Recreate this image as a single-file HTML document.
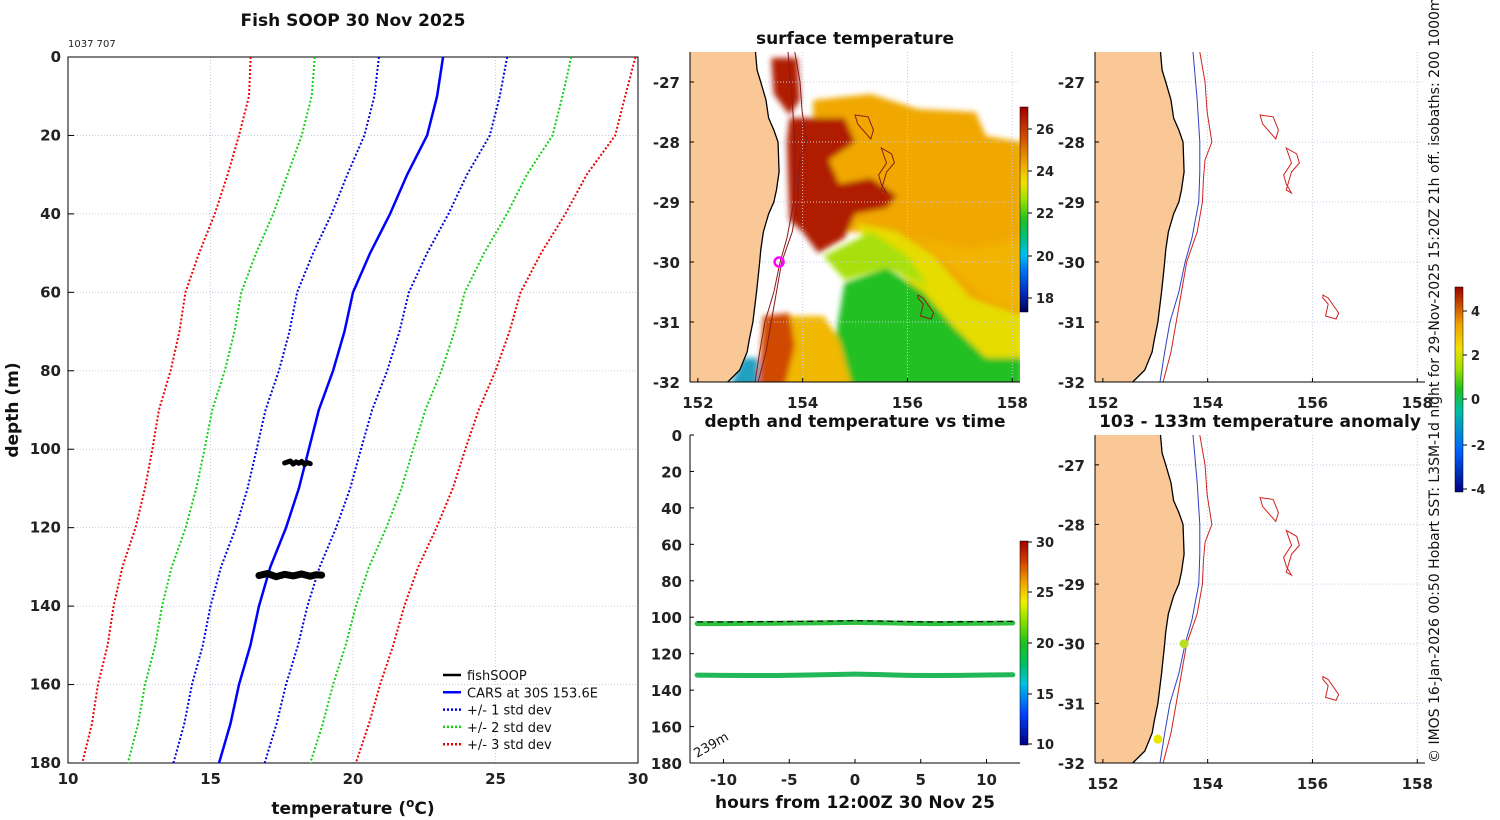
<!DOCTYPE html>
<html><head><meta charset="utf-8"><style>
body{margin:0;background:#fff}
svg{display:block;font-family:"DejaVu Sans","Liberation Sans",sans-serif}
.t{font-weight:bold;font-size:15px;fill:#222}
.ti{font-weight:bold;font-size:17px;fill:#111}
.cb{font-weight:bold;font-size:13px;fill:#222}
.lg{font-size:13px;fill:#111}
</style></head><body>
<svg id="s" width="1500" height="820" viewBox="0 0 1500 820">
<defs>
<filter id="bl" x="-5%" y="-5%" width="110%" height="110%"><feGaussianBlur stdDeviation="3"/></filter>
<clipPath id="c2"><rect x="690" y="52" width="330" height="330"/></clipPath>
<clipPath id="c4"><rect x="1095" y="52" width="330" height="330"/></clipPath>
<clipPath id="c5"><rect x="1095" y="435" width="330" height="328"/></clipPath>
<linearGradient id="gsst" x1="0" y1="1" x2="0" y2="0">
<stop offset="0" stop-color="#00005a"/><stop offset="0.1" stop-color="#0030c0"/><stop offset="0.2" stop-color="#0070f0"/><stop offset="0.28" stop-color="#00c0f0"/><stop offset="0.36" stop-color="#00c080"/><stop offset="0.45" stop-color="#20c020"/><stop offset="0.55" stop-color="#a0e000"/><stop offset="0.63" stop-color="#f0e000"/><stop offset="0.72" stop-color="#f0a800"/><stop offset="0.85" stop-color="#d05000"/><stop offset="1" stop-color="#a00000"/></linearGradient>
<linearGradient id="gts" x1="0" y1="1" x2="0" y2="0">
<stop offset="0" stop-color="#000080"/><stop offset="0.15" stop-color="#0040ff"/><stop offset="0.3" stop-color="#00c0e0"/><stop offset="0.4" stop-color="#00c060"/><stop offset="0.5" stop-color="#20c020"/><stop offset="0.6" stop-color="#80e000"/><stop offset="0.7" stop-color="#f0f000"/><stop offset="0.8" stop-color="#f0a000"/><stop offset="0.9" stop-color="#d04000"/><stop offset="1" stop-color="#a00000"/></linearGradient>
<linearGradient id="gan" x1="0" y1="1" x2="0" y2="0">
<stop offset="0" stop-color="#000080"/><stop offset="0.2" stop-color="#0060ff"/><stop offset="0.4" stop-color="#00c0a0"/><stop offset="0.5" stop-color="#20c020"/><stop offset="0.6" stop-color="#a0e000"/><stop offset="0.7" stop-color="#f0e000"/><stop offset="0.82" stop-color="#f0a000"/><stop offset="1" stop-color="#a00000"/></linearGradient>
</defs>
<g id="g"></g>
</svg>
<script>
// ---- profile data ----
const depthsC=[0,10,20,30,40,50,60,70,80,90,100,110,120,130,140,150,160,170,180];
const meanC=[23.16,22.95,22.6,21.9,21.3,20.6,20.0,19.7,19.3,18.8,18.45,18.1,17.65,17.1,16.7,16.4,16.0,15.7,15.3];
const sdC=[2.25,2.2,2.2,2.1,2.05,2.0,1.96,1.93,1.9,1.87,1.83,1.8,1.76,1.73,1.7,1.67,1.65,1.62,1.6];
const fishT1=[17.6,17.8,17.9,18.0,18.1,18.2,18.3,18.4,18.5];
const fishD1=[103.5,103.0,103.8,103.2,103.6,103.1,103.9,103.4,103.7];
const fishT2=[16.7,17.0,17.3,17.6,17.9,18.2,18.5,18.7,18.9];
const fishD2=[132.2,131.7,132.5,131.9,132.3,131.8,132.4,132.0,132.1];
const xTicks1=[10,15,20,25,30];
const yTicks1=[0,20,40,60,80,100,120,140,160,180];
// ---- time series data ----
const hours=[-12,-10,-8,-6,-4,-2,0,2,4,6,8,10,12];
const depthA=[103.5,103.5,103.4,103.3,103.2,103.0,102.8,103.0,103.3,103.5,103.4,103.3,103.2];
const depthB=[131.8,131.9,132.0,132.0,131.8,131.5,131.2,131.5,131.9,132.0,131.9,131.7,131.6];
const tempA=[20.5,20.6,20.6,20.5,20.4,20.5,20.6,20.5,20.4,20.5,20.6,20.5,20.5];
const tempB=[20.2,20.3,20.1,20.0,19.9,19.8,20.0,19.8,19.7,19.9,20.1,20.2,20.3];
const hTicks=[-10,-5,0,5,10];
const dTicks=[0,20,40,60,80,100,120,140,160,180];
// ---- map data ----
const lonTicks=[152,154,156,158];
const latTicks=[-27,-28,-29,-30,-31,-32];
const coastLon=[153.1,153.13,153.2,153.3,153.35,153.45,153.53,153.55,153.5,153.45,153.35,153.25,153.2,153.18,153.12,153.05,152.98,152.94,152.8,152.57];
const coastLat=[-26.5,-26.8,-27.0,-27.3,-27.6,-27.8,-28.0,-28.5,-28.8,-29.0,-29.2,-29.5,-29.8,-30.0,-30.5,-31.0,-31.3,-31.5,-31.8,-32.0];
const iso200Lon=[153.72,153.8,153.85,153.85,153.83,153.7,153.57,153.45,153.28,153.18,153.09];
const iso200Lat=[-26.5,-27.3,-28.0,-28.5,-29.0,-29.6,-30.0,-30.5,-31.0,-31.5,-32.0];
const iso1000Lon=[153.85,153.95,153.99,154.08,153.95,153.92,153.9,153.8,153.6,153.5,153.4,153.3,153.15];
const iso1000Lat=[-26.5,-27.0,-27.5,-28.0,-28.3,-28.6,-29.0,-29.5,-30.0,-30.5,-31.0,-31.5,-32.0];
const smLon=[[155.0,155.25,155.35,155.3,155.05],[155.5,155.7,155.75,155.6,155.55,155.5,155.6,155.5,155.45,155.6],[156.2,156.3,156.5,156.45,156.25,156.3,156.2]];
const smLat=[[-27.55,-27.58,-27.8,-27.95,-27.7],[-28.1,-28.2,-28.35,-28.5,-28.65,-28.8,-28.85,-28.7,-28.55,-28.35],[-30.55,-30.6,-30.85,-30.95,-30.9,-30.7,-30.6]];
const sstRegions=[
 ["#f0a800",[[154.2,-27.3],[155.3,-27.2],[156.2,-27.45],[157.3,-27.5],[157.5,-27.9],[158.2,-28.0],[158.2,-31.2],[157.6,-31.0],[157,-30.6],[156.5,-30.1],[155.5,-29.5],[154.5,-29.5],[154.2,-28]]],
 ["#f2b400",[[156.2,-29.6],[157.2,-29.8],[158.2,-29.6],[158.2,-30.8],[157.5,-30.6]]],
 ["#e6dc00",[[155.0,-29.35],[155.8,-29.5],[156.5,-29.9],[157.2,-30.6],[158.2,-30.9],[158.2,-31.7],[157.3,-31.7],[156.6,-31.0],[156.0,-30.3],[155.4,-29.9]]],
 ["#a8e010",[[154.4,-29.9],[155.3,-29.5],[156.0,-29.9],[156.4,-30.4],[155.6,-30.1],[154.8,-30.3]]],
 ["#22c020",[[154.8,-30.35],[155.6,-30.1],[156.3,-30.5],[156.9,-31.1],[157.5,-31.6],[158.2,-31.6],[158.2,-32.1],[154.9,-32.1],[154.6,-31.4]]],
 ["#b01a00",[[153.75,-27.6],[154.8,-27.6],[155.0,-28.0],[154.5,-28.3],[154.7,-28.7],[155.3,-28.6],[155.8,-28.9],[155.6,-29.1],[155.0,-29.2],[154.8,-29.6],[154.3,-29.85],[154.0,-29.5],[153.75,-29.3],[153.7,-28.0]]],
 ["#b01a00",[[153.4,-26.6],[153.9,-26.6],[153.95,-27.3],[153.75,-27.55],[153.45,-27.2]]],
 ["#f0b800",[[153.7,-30.9],[154.4,-30.9],[154.7,-31.3],[154.95,-32.1],[153.6,-32.1]]],
 ["#d04a00",[[153.25,-30.9],[153.75,-30.85],[153.85,-31.4],[153.65,-32.1],[153.15,-32.1]]],
 ["#20a0c0",[[152.85,-31.6],[153.15,-31.6],[153.15,-32.1],[152.6,-32.1]]]
];
const ns='http://www.w3.org/2000/svg';
const G=document.getElementById('g');
function el(tag,attrs,parent,text){const e=document.createElementNS(ns,tag);for(const k in attrs)e.setAttribute(k,attrs[k]);if(text!==undefined)e.textContent=text;(parent||G).appendChild(e);return e;}
// ===== Panel 1 =====
const px=T=>68+(T-10)*28.5, py=d=>57+d*(706/180);
let p1=el('g',{});


el('rect',{x:68,y:57,width:570,height:706,fill:'#fff'},p1);
xTicks1.forEach(t=>{if(t>10&&t<30)el('line',{x1:px(t),y1:57,x2:px(t),y2:763,stroke:'#c4cce4','stroke-dasharray':'1 2'},p1);
 let tl=el('text',{x:px(t),y:784,'text-anchor':'middle',class:'t'},p1,String(t));
 
 });
yTicks1.forEach(d=>{if(d>0&&d<180)el('line',{x1:68,y1:py(d),x2:638,y2:py(d),stroke:'#c4cce4','stroke-dasharray':'1 2'},p1);
 el('line',{x1:68,y1:py(d),x2:74,y2:py(d),stroke:'#000'},p1);
 let tl=el('text',{x:61,y:py(d)+5,'text-anchor':'end',class:'t'},p1,String(d));
 
 });
el('rect',{x:68,y:57,width:570,height:706,fill:'none',stroke:'#000'},p1);
function curve(k,color,dash,w,name){const pts=depthsC.map((d,i)=>px(meanC[i]+k*sdC[i])+','+py(d)).join(' ');
 const l=el('polyline',{points:pts,fill:'none',stroke:color,'stroke-width':w,'stroke-dasharray':dash},p1);
 
 }
curve(-3,'#f00000','2 2',2,'minus-3-std-line');curve(3,'#f00000','2 2',2,'plus-3-std-line');
curve(-2,'#10d010','2 2',2,'minus-2-std-line');curve(2,'#10d010','2 2',2,'plus-2-std-line');
curve(-1,'#0000e0','2 2',2,'minus-1-std-line');curve(1,'#0000e0','2 2',2,'plus-1-std-line');
curve(0,'#0000ff','',2.5,'cars-mean-line');
[[fishT1,fishD1],[fishT2,fishD2]].forEach(([T,D],j)=>{
 const pts=T.map((t,i)=>px(t)+','+py(D[i])).join(' ');
 const l=el('polyline',{points:pts,fill:'none',stroke:'#000','stroke-width':j?7:5,'stroke-linejoin':'round','stroke-linecap':'round'},p1);
 
 });
let tt=el('text',{x:353,y:26,'text-anchor':'middle',class:'ti'},p1,'Fish SOOP 30 Nov 2025');


let sm=el('text',{x:68,y:47,'font-size':'10',fill:'#222'},p1,'1037 707');


let yl=el('text',{x:0,y:0,transform:'translate(18,410) rotate(-90)','text-anchor':'middle',class:'ti'},p1,'depth (m)');


let xl=el('text',{x:353,y:814,'text-anchor':'middle',class:'ti'},p1);


xl.innerHTML='temperature (<tspan dy="-7" font-size="12">o</tspan><tspan dy="7">C)</tspan>';
const legItems=[['#000','','fishSOOP'],['#0000ff','','CARS at 30S 153.6E'],['#0000e0','2 2','+/- 1 std dev'],['#10d010','2 2','+/- 2 std dev'],['#f00000','2 2','+/- 3 std dev']];
legItems.forEach((it,i)=>{const y=675+i*17.3;
 const g=el('g',{},p1);
 
 
 el('line',{x1:443,y1:y,x2:461,y2:y,stroke:it[0],'stroke-width':2.5,'stroke-dasharray':it[1]},g);
 el('text',{x:467,y:y+5,class:'lg'},g,it[2]);});
// ===== map helpers =====
function mapPanel(x0,y0,h,latTop,name,isSST,dots){
 const sx=lon=>x0+(lon-151.85)*52.4, sy=lat=>y0+(latTop-lat)*(h/(latTop+32));
 const g=el('g',{});
 
 
 const clip=isSST?'url(#c2)':(y0<100?'url(#c4)':'url(#c5)');
 const inner=el('g',{'clip-path':clip},g);
 if(isSST){const f=el('g',{filter:'url(#bl)'},inner);
  sstRegions.forEach(r=>{const p=el('polygon',{points:r[1].map(q=>sx(q[0])+','+sy(q[1])).join(' '),fill:r[0]},f);
   
   });}
 lonTicks.forEach(l=>{if(l>152)el('line',{x1:sx(l),y1:y0,x2:sx(l),y2:y0+h,stroke:'#c4cce4','stroke-dasharray':'1 2'},inner);});
 latTicks.forEach(l=>{el('line',{x1:x0,y1:sy(l),x2:x0+330,y2:sy(l),stroke:'#c4cce4','stroke-dasharray':'1 2'},inner);});
 const land=[[151.8,latTop+0.1]].concat(coastLon.map((v,i)=>[v,coastLat[i]])).concat([[152.5,-32.2],[151.8,-32.2]]);
 const lp=el('polygon',{points:land.map(q=>sx(q[0])+','+sy(q[1])).join(' '),fill:'#f9c896'},inner);
 
 
 el('polyline',{points:coastLon.map((v,i)=>sx(v)+','+sy(coastLat[i])).join(' '),fill:'none',stroke:'#000','stroke-width':1.3},inner);
 el('polyline',{points:iso200Lon.map((v,i)=>sx(v)+','+sy(iso200Lat[i])).join(' '),fill:'none',stroke:isSST?'#8b1a1a':'#3040c0','stroke-width':1},inner);
 el('polyline',{points:iso1000Lon.map((v,i)=>sx(v)+','+sy(iso1000Lat[i])).join(' '),fill:'none',stroke:isSST?'#8b1a1a':'#d02020','stroke-width':1},inner);
 smLon.forEach((a,j)=>el('polygon',{points:a.map((v,i)=>sx(v)+','+sy(smLat[j][i])).join(' '),fill:'none',stroke:isSST?'#8b1a1a':'#d02020','stroke-width':1},inner));
 if(isSST){const c=el('circle',{cx:sx(153.55),cy:sy(-30.0),r:4.5,fill:'none',stroke:'#ff00ff','stroke-width':2.5},inner);
  
  }
 if(dots)dots.forEach(d=>{const c=el('circle',{cx:sx(d[0]),cy:sy(d[1]),r:4.5,fill:d[2]},inner);
  
  });
 el('line',{x1:x0,y1:y0,x2:x0,y2:y0+h,stroke:'#000'},g);
 el('line',{x1:x0,y1:y0+h,x2:x0+330,y2:y0+h,stroke:'#000'},g);
 lonTicks.forEach(l=>{el('line',{x1:sx(l),y1:y0+h,x2:sx(l),y2:y0+h-4,stroke:'#000'},g);
  const t=el('text',{x:sx(l),y:y0+h+26,'text-anchor':'middle',class:'t'},g,String(l));
  
  });
 latTicks.forEach(l=>{el('line',{x1:x0,y1:sy(l),x2:x0+4,y2:sy(l),stroke:'#000'},g);
  const t=el('text',{x:x0-10,y:sy(l)+6,'text-anchor':'end',class:'t'},g,String(l));
  
  });
}
mapPanel(690,52,330,-26.5,'sst-map',true,null);
mapPanel(1095,52,330,-26.5,'isobath-map',false,null);
mapPanel(1095,435,328,-26.5,'anomaly-map',false,[[153.55,-30.0,'#b8e020'],[153.05,-31.6,'#e8e800']]);
// colorbars
function cbar(x,y0,y1,grad,ticks,name){const g=el('g',{});
 
 
 el('rect',{x:x,y:y0,width:8,height:y1-y0,fill:'url(#'+grad+')',stroke:'#000','stroke-width':0.5},g);
 ticks.forEach(t=>{el('line',{x1:x+8,y1:t[1],x2:x+12,y2:t[1],stroke:'#000'},g);
  el('text',{x:x+16,y:t[1]+5,class:'cb'},g,t[0]);});}
cbar(1020,107,312,'gsst',[['26',129],['24',171],['22',213],['20',256],['18',298]],'sst-colorbar');
cbar(1020,541,745,'gts',[['30',542],['25',592],['20',643],['15',694],['10',744]],'time-colorbar');
cbar(1455,287,492,'gan',[['4',311],['2',355],['0',399],['-2',445],['-4',489]],'anomaly-colorbar');
// ===== time series =====
const hx=h=>855+h*13.15, dy=d=>435+d*(328/180);
const p3=el('g',{});


el('line',{x1:690,y1:435,x2:690,y2:763,stroke:'#000'},p3);
el('line',{x1:690,y1:763,x2:1020,y2:763,stroke:'#000'},p3);
dTicks.forEach(d=>{el('line',{x1:690,y1:dy(d),x2:694,y2:dy(d),stroke:'#000'},p3);
 const t=el('text',{x:682,y:dy(d)+6,'text-anchor':'end',class:'t'},p3,String(d));
 
 });
hTicks.forEach(h=>{el('line',{x1:hx(h),y1:763,x2:hx(h),y2:759,stroke:'#000'},p3);
 const t=el('text',{x:hx(h),y:785,'text-anchor':'middle',class:'t'},p3,String(h));
 
 });
function tcol(T){return T>20.3?'#30c040':'#20b858';}
[[depthA,tempA,'depth-band-103m'],[depthB,tempB,'depth-band-132m']].forEach(([D,T,nm])=>{
 const g=el('g',{},p3);
 
 
 for(let i=0;i<hours.length-1;i++)el('line',{x1:hx(hours[i]),y1:dy(D[i]),x2:hx(hours[i+1]),y2:dy(D[i+1]),stroke:tcol(T[i]),'stroke-width':5,'stroke-linecap':'round'},g);});
const dl=el('polyline',{points:hours.map((h,i)=>hx(h)+','+dy(depthA[i]-0.9)).join(' '),fill:'none',stroke:'#000','stroke-width':1.2,'stroke-dasharray':'6 4'},p3);


const bt=el('text',{x:0,y:0,transform:'translate(697,758) rotate(-30)','font-size':'13',fill:'#111'},p3,'239m');


// titles
[['surface temperature',855,44,'sst-title'],['depth and temperature vs time',855,427,'time-series-title'],['103 - 133m temperature anomaly',1260,427,'anomaly-title'],['hours from 12:00Z 30 Nov 25',855,808,'hours-axis-title']].forEach(a=>{
 const t=el('text',{x:a[1],y:a[2],'text-anchor':'middle',class:'ti'},G,a[0]);
 
 });
const cr=el('text',{x:0,y:0,transform:'translate(1439,763) rotate(-90)','font-size':'14',fill:'#111'},G,'© IMOS 16-Jan-2026 00:50 Hobart SST: L3SM-1d night for 29-Nov-2025 15:20Z 21h off. isobaths: 200  1000m');


</script>
</body></html>
